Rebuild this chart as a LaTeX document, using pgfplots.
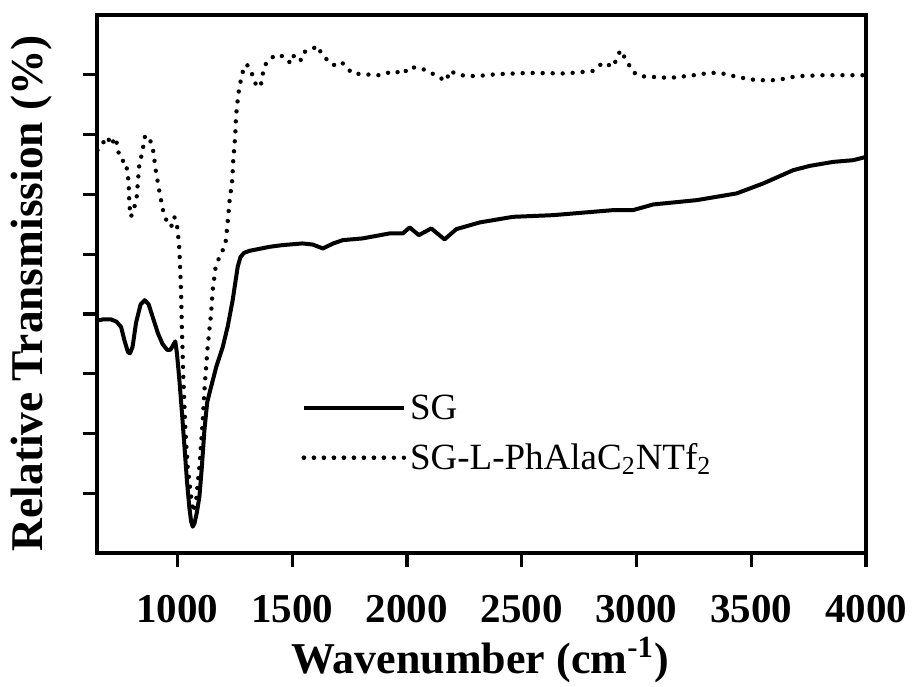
\documentclass[border=0pt]{standalone}
\usepackage{fontspec}
\setmainfont{Liberation Serif}
\usepackage{pgfplots}
\pgfplotsset{compat=1.18}

\begin{document}
\begin{tikzpicture}
\useasboundingbox (-48.5pt,-66.5pt) rectangle (408pt,276.5pt);
\begin{axis}[
  scale only axis, width=384.5pt, height=269pt,
  at={(0pt,0pt)}, anchor=south west,
  xmin=650, xmax=4000, ymin=0, ymax=90,
  xtick={1000,1500,...,4000}, ytick={10,20,...,80}, yticklabels={},
  tick align=outside, major tick length=7pt,
  xtick pos=bottom, ytick pos=left,
  axis line style={line width=1.6pt},
  every tick/.style={line width=1.6pt, black},
  /pgf/number format/assume math mode=true,
  /pgf/number format/set thousands separator={},
  xticklabel style={font=\bfseries\fontsize{20.5}{21}\selectfont, anchor=center, yshift=-21pt},
  xlabel={Wavenumber (cm\textsuperscript{-1})},
  xlabel style={font=\bfseries\fontsize{22}{24}\selectfont, at={(axis description cs:0.498,0)}, anchor=center, yshift=-53.5pt},
  ylabel={Relative Transmission (\%)},
  ylabel style={font=\bfseries\fontsize{22.7}{24}\selectfont, at={(axis description cs:-0.0845,0.483)}, anchor=center},
  legend style={draw=none, fill=none, at={(axis cs:1540,20)}, anchor=west, font=\fontsize{18.5}{20}\selectfont, row sep=6.5pt, inner sep=0pt},
  legend cell align=left,
  legend image code/.code={\path (0pt,0pt) -- (50pt,0pt); \draw[#1] (0pt,0pt) -- (43pt,0pt);},
]
\addplot[black, line width=2pt, line join=round] coordinates {
(650,38.9) (680,39.1) (710,39.1) (735,38.7) (755,37.8) (770,35.5) (785,33.6)
(794,33.4) (805,34.5) (820,38.5) (840,41.6) (858,42.3) (875,41.6) (895,39.2)
(915,36.8) (935,35.0) (955,34.0) (970,34.0) (985,35.0) (991,35.4) (998,33.5)
(1009,28.9) (1020,23.5) (1031,17.8) (1042,12.0) (1052,7.7) (1060,5.3) (1067,4.4)
(1075,5.0) (1085,6.8) (1096,9.4) (1106,14.0) (1118,20.6) (1130,25.2) (1147,27.8)
(1170,31.2) (1198,34.5) (1220,38.0) (1241,42.3) (1263,47.9) (1275,49.5) (1290,50.2)
(1314,50.55) (1401,51.22) (1458,51.51) (1545,51.79) (1590,51.6) (1634,50.95)
(1680,51.8) (1721,52.34) (1807,52.63)
(1924,53.46) (1982,53.46) (2012,54.46) (2052,53.18) (2106,54.30) (2164,52.46)
(2215,54.18) (2317,55.30) (2462,56.24) (2637,56.52) (2898,57.36) (2985,57.36)
(3073,58.31) (3262,59.03) (3436,60.15) (3552,61.82) (3683,64.05) (3756,64.77)
(3857,65.43) (3945,65.72) (4000,66.27)
};
\addlegendentry{SG}
\addplot[black, line width=2.2pt, line cap=round, dash pattern=on 0pt off 5pt] coordinates {
(652,67.39) (696,69.62) (711,68.23) (730,69.52) (740,67.94) (747,66.27)
(761,65.60) (773,65.60) (783,63.76) (788,61.82) (791,58.19) (798,56.24)
(813,57.91) (823,59.58) (834,64.88) (846,66.84) (860,69.90) (885,68.78)
(895,67.22) (907,63.76) (922,60.42) (939,57.07) (953,55.57) (973,54.57)
(987,56.24) (1001,54.30) (1009,50.67) (1016,43.98) (1020,37.29) (1026,29.48)
(1035,20.57) (1045,14.43) (1060,9.41) (1068,6.86) (1082,8.86) (1096,14.43)
(1110,21.69) (1118,27.26) (1132,34.50) (1147,40.08) (1154,43.98) (1166,47.61)
(1183,49.55) (1209,51.51) (1219,55.13) (1227,58.75) (1239,62.37) (1244,66.00)
(1252,69.62) (1256,73.24) (1266,76.87) (1275,78.81) (1285,80.48) (1302,81.77)
(1321,80.65) (1333,79.21) (1348,77.88) (1365,78.55) (1372,80.10) (1382,81.61)
(1404,82.73) (1437,83.39) (1474,82.89) (1493,81.89) (1510,83.39) (1539,82.44)
(1554,83.83) (1583,84.23) (1612,84.83) (1627,83.56) (1651,82.56) (1680,81.61)
(1714,82.16) (1736,81.32) (1762,80.22) (1808,80.10) (1881,79.93) (1946,80.65)
(1982,80.10) (2012,81.32) (2063,81.05) (2099,80.48) (2135,79.65) (2172,78.98)
(2186,80.65) (2230,79.93) (2302,79.77) (2390,80.10) (2535,80.32) (2695,80.22)
(2811,80.65) (2855,82.06) (2898,81.32) (2930,84.11) (2949,82.89) (2964,81.89)
(2985,80.48) (3015,79.77) (3145,79.48) (3240,79.88) (3320,80.32) (3363,80.32)
(3451,79.55) (3523,79.10) (3611,79.10) (3698,79.77) (3814,79.93) (3966,79.93)
(4000,79.93)
};
\addlegendentry{SG-L-PhAlaC\textsubscript{2}NTf\textsubscript{2}}
\end{axis}
\end{tikzpicture}
\end{document}
